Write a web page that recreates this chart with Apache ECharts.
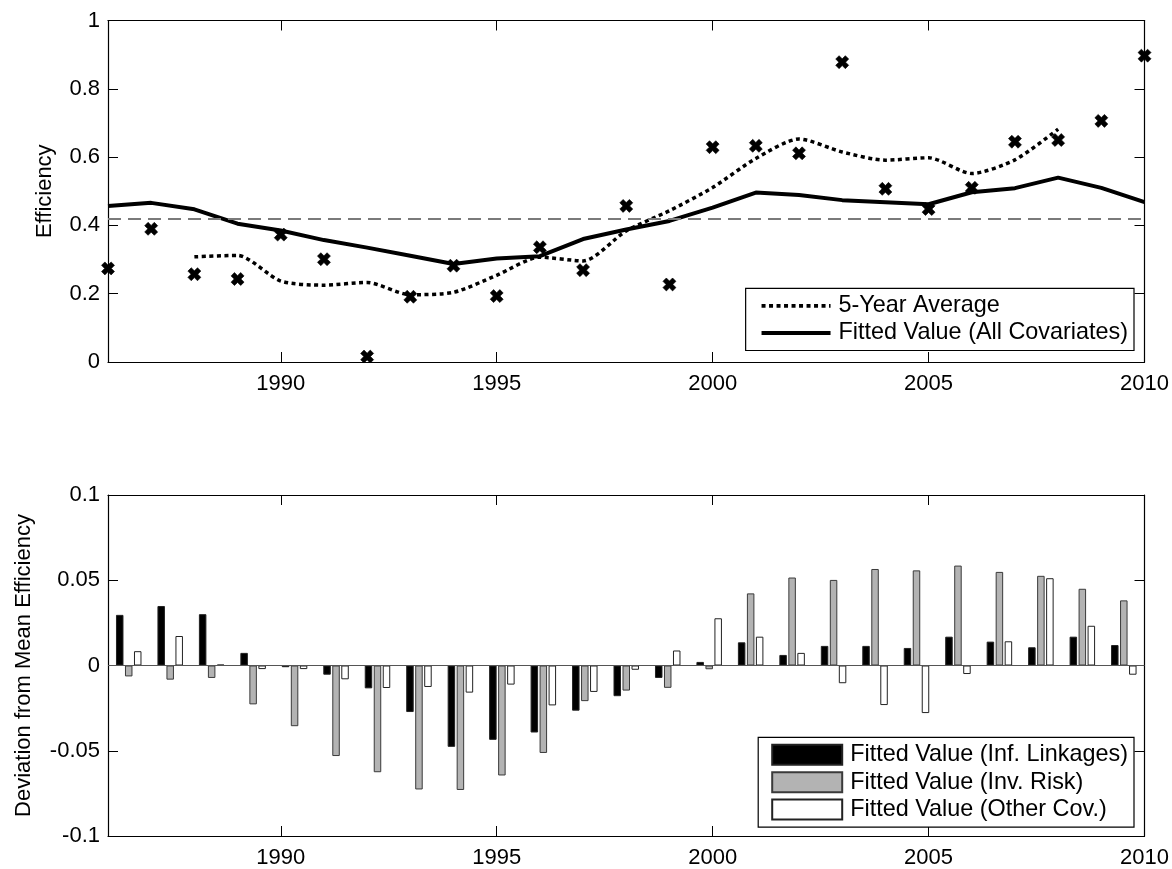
<!DOCTYPE html>
<html>
<head>
<meta charset="utf-8">
<title>Efficiency</title>
<script src="https://cdn.jsdelivr.net/npm/echarts@6/dist/echarts.min.js"></script>
<style>
  html, body { margin: 0; padding: 0; background: #fff; }
  #chart { width: 1172px; height: 869px; }
</style>
</head>
<body>
<div id="chart"></div>
<script>
// Years on the horizontal axes
const years = [1986, 1987, 1988, 1989, 1990, 1991, 1992, 1993, 1994, 1995, 1996, 1997, 1998,
               1999, 2000, 2001, 2002, 2003, 2004, 2005, 2006, 2007, 2008, 2009, 2010];
const yearTicks = [1990, 1995, 2000, 2005, 2010];

// Upper panel: yearly efficiency, its 5-year average and the fitted value
const efficiency = [0.274, 0.390, 0.257, 0.243, 0.373, 0.301, 0.016, 0.191, 0.282, 0.193, 0.336, 0.269, 0.457,
                    0.227, 0.629, 0.633, 0.611, 0.878, 0.507, 0.448, 0.510, 0.645, 0.650, 0.706, 0.897];
const fiveYearAvg = [null, null, 0.308, 0.312, 0.237, 0.225, 0.233, 0.197, 0.204, 0.254, 0.307, 0.296, 0.384,
                     0.443, 0.511, 0.596, 0.653, 0.615, 0.591, 0.598, 0.552, 0.592, 0.682, null, null];
const fittedAll = [0.457, 0.466, 0.447, 0.405, 0.385, 0.357, 0.335, 0.311, 0.287, 0.303, 0.310, 0.360, 0.388,
                   0.413, 0.452, 0.496, 0.489, 0.474, 0.468, 0.462, 0.497, 0.509, 0.540, 0.510, 0.468];
const meanEfficiency = 0.423;

// Lower panel: deviation from mean efficiency by covariate group
const fittedLinkages = [0.0297, 0.0349, 0.0301, 0.0074, -0.0010, -0.0054, -0.0134, -0.0273, -0.0477, -0.0436,
                        -0.0393, -0.0265, -0.0180, -0.0073, 0.0021, 0.0136, 0.0062, 0.0115, 0.0115, 0.0103,
                        0.0169, 0.0140, 0.0107, 0.0169, 0.0120];
const fittedRisk = [-0.0064, -0.0083, -0.0073, -0.0228, -0.0356, -0.0531, -0.0626, -0.0727, -0.0730, -0.0645,
                    -0.0513, -0.0209, -0.0147, -0.0131, -0.0022, 0.0423, 0.0516, 0.0502, 0.0566, 0.0558,
                    0.0586, 0.0549, 0.0526, 0.0450, 0.0382];
const fittedOther = [0.0084, 0.0173, 0.0005, -0.0021, -0.0021, -0.0081, -0.0132, -0.0126, -0.0159, -0.0112,
                     -0.0234, -0.0155, -0.0025, 0.0088, 0.0277, 0.0169, 0.0074, -0.0104, -0.0232, -0.0279,
                     -0.0050, 0.0142, 0.0512, 0.0233, -0.0054];

const FONT = 'Liberation Sans, Arial, Helvetica, sans-serif';
const FS = 22;
const LEGEND_FS = 23.4;
// bold "x" marker
const crossPath = 'path://M0,2.6L2.6,0L5,2.4L7.4,0L10,2.6L7.6,5L10,7.4L7.4,10L5,7.6L2.6,10L0,7.4L2.4,5Z';

const pair = (xs, ys) => xs.map((x, i) => [x, ys[i]]);

// Frame axes (box on all four sides with inward ticks)
function yearAxis(grid, pos, showLabels) {
  return {
    type: 'value', gridIndex: grid, position: pos, min: 1986, max: 2010,
    axisLine: { show: true, onZero: false, lineStyle: { color: '#000', width: 1.2 } },
    axisTick: { show: true, inside: true, length: 10, customValues: yearTicks,
                lineStyle: { color: '#000', width: 1 } },
    axisLabel: { show: showLabels, customValues: yearTicks, margin: 11,
                 color: '#000', fontSize: FS, fontFamily: FONT, formatter: v => String(v) },
    splitLine: { show: false }
  };
}
function valueAxis(grid, pos, min, max, step, showLabels, name, nameGap) {
  return {
    type: 'value', gridIndex: grid, position: pos, min: min, max: max, interval: step,
    name: name || '', nameLocation: 'middle', nameGap: nameGap || 0,
    nameTextStyle: { color: '#000', fontSize: FS, fontFamily: FONT },
    axisLine: { show: true, onZero: false, lineStyle: { color: '#000', width: 1.2 } },
    axisTick: { show: true, inside: true, length: 10, lineStyle: { color: '#000', width: 1 } },
    axisLabel: { show: showLabels, margin: 8, color: '#000', fontSize: FS, fontFamily: FONT,
                 formatter: v => String(parseFloat(v.toFixed(3))) },
    splitLine: { show: false }
  };
}

const chart = echarts.init(document.getElementById('chart'), null, { renderer: 'canvas' });

chart.setOption({
  animation: false,
  backgroundColor: '#fff',
  grid: [
    { left: 108, right: 27, top: 20.5, height: 341.5 },
    { left: 108, right: 27, top: 495, height: 344 }
  ],
  xAxis: [
    yearAxis(0, 'bottom', true),
    yearAxis(0, 'top', false),
    yearAxis(1, 'bottom', true),
    yearAxis(1, 'top', false),
    { type: 'category', gridIndex: 1, data: years, boundaryGap: true, show: false }
  ],
  yAxis: [
    valueAxis(0, 'left', 0, 1, 0.2, true, 'Efficiency', 52),
    valueAxis(0, 'right', 0, 1, 0.2, false),
    valueAxis(1, 'left', -0.1, 0.1, 0.05, true, 'Deviation from Mean Efficiency', 73),
    valueAxis(1, 'right', -0.1, 0.1, 0.05, false)
  ],
  legend: [
    {
      data: ['5-Year Average', 'Fitted Value (All Covariates)'],
      orient: 'vertical', right: 38, top: 288.3,
      itemWidth: 69, itemHeight: 14, itemGap: 4.2,
      itemStyle: { opacity: 0 },
      lineStyle: { width: 3.8 },
      padding: [6, 6, 6, 14],
      backgroundColor: '#fff', borderColor: '#000', borderWidth: 1.2, borderRadius: 0,
      textStyle: { color: '#000', fontSize: LEGEND_FS, fontFamily: FONT, padding: [0, 0, 0, 3] }
    },
    {
      data: ['Fitted Value (Inf. Linkages)', 'Fitted Value (Inv. Risk)', 'Fitted Value (Other Cov.)'],
      orient: 'vertical', right: 38, top: 737.3,
      itemWidth: 70, itemHeight: 20, itemGap: 4.4, icon: 'rect',
      padding: [6, 6, 6, 13],
      backgroundColor: '#fff', borderColor: '#000', borderWidth: 1.2, borderRadius: 0,
      textStyle: { color: '#000', fontSize: LEGEND_FS, fontFamily: FONT, padding: [0, 0, 0, 3] }
    }
  ],
  series: [
    {
      name: 'Mean', type: 'line', xAxisIndex: 0, yAxisIndex: 0, data: [],
      markLine: {
        silent: true, symbol: ['none', 'none'], label: { show: false },
        lineStyle: { color: '#7a7a7a', type: [13, 7], width: 2 },
        data: [{ yAxis: meanEfficiency }]
      }
    },
    {
      name: '5-Year Average', type: 'line', xAxisIndex: 0, yAxisIndex: 0,
      data: pair(years, fiveYearAvg), showSymbol: false, symbol: 'none', smooth: 0.25,
      lineStyle: { color: '#000', width: 3.5, type: [4, 3.5], cap: 'butt' },
      itemStyle: { color: '#000' }, z: 3
    },
    {
      name: 'Fitted Value (All Covariates)', type: 'line', xAxisIndex: 0, yAxisIndex: 0,
      data: pair(years, fittedAll), showSymbol: false, symbol: 'none',
      lineStyle: { color: '#000', width: 4 }, itemStyle: { color: '#000' }, z: 3
    },
    {
      name: 'Efficiency', type: 'scatter', xAxisIndex: 0, yAxisIndex: 0,
      data: pair(years, efficiency), symbol: crossPath, symbolSize: 13, clip: false,
      itemStyle: { color: '#000', borderColor: '#000', borderWidth: 0.6, opacity: 1 }, z: 4
    },
    {
      name: 'Fitted Value (Inf. Linkages)', type: 'bar', xAxisIndex: 4, yAxisIndex: 2,
      data: fittedLinkages, barWidth: 7.5, barGap: '20%',
      itemStyle: { color: '#000', borderColor: '#222', borderWidth: 1 },
      markLine: {
        silent: true, symbol: ['none', 'none'], label: { show: false },
        lineStyle: { color: '#555', type: 'solid', width: 1.2 },
        data: [{ yAxis: 0 }], z: 5
      }
    },
    {
      name: 'Fitted Value (Inv. Risk)', type: 'bar', xAxisIndex: 4, yAxisIndex: 2,
      data: fittedRisk, barWidth: 7.5, barGap: '20%',
      itemStyle: { color: '#b3b3b3', borderColor: '#3a3a3a', borderWidth: 1 }
    },
    {
      name: 'Fitted Value (Other Cov.)', type: 'bar', xAxisIndex: 4, yAxisIndex: 2,
      data: fittedOther, barWidth: 7.5, barGap: '20%',
      itemStyle: { color: '#fff', borderColor: '#222', borderWidth: 1 }
    }
  ]
});
</script>
</body>
</html>
